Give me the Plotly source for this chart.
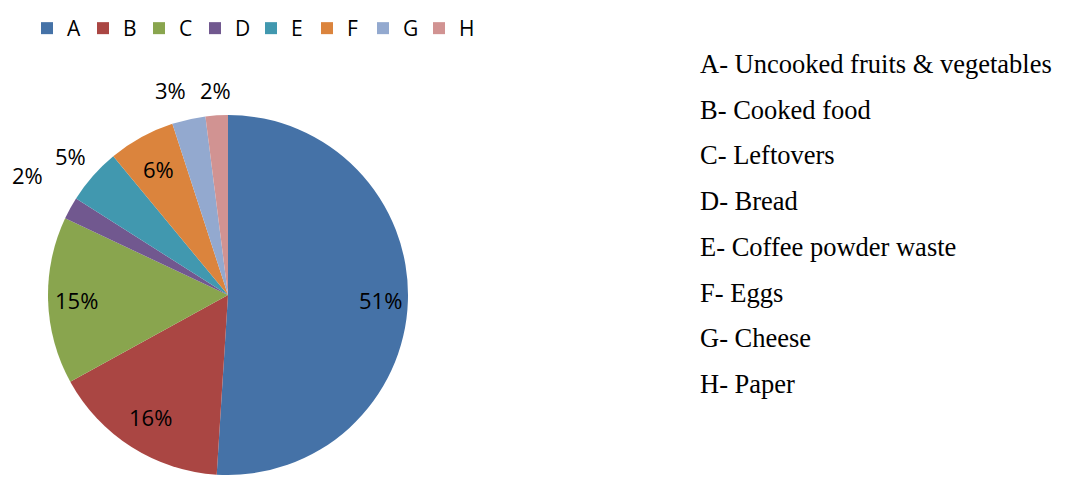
import math
import plotly.graph_objects as go

categories = ["A", "B", "C", "D", "E", "F", "G", "H"]
values = [51, 16, 15, 2, 5, 6, 3, 2]
descriptions = [
    "A- Uncooked fruits & vegetables",
    "B- Cooked food",
    "C- Leftovers",
    "D- Bread",
    "E- Coffee powder waste",
    "F- Eggs",
    "G- Cheese",
    "H- Paper",
]
colors = ["#4572A7", "#AA4643", "#89A54E", "#71588F", "#4198AF", "#DB843D", "#93A9CF", "#D19392"]
# label placement style: radial factor (of radius) and angular nudge (degrees)
label_radius = [0.85, 0.80, 0.84, 1.30, 1.17, 0.80, 1.18, 1.14]
label_nudge = [0, 0, 0, 2, 0, 0, -3, 0]

# page body has an 8px margin, so the figure is slightly smaller than the window
W, H = 1057, 470
cx, cy, R = 220, 287, 180          # pie centre / radius in figure pixels
LABEL_FONT = dict(family="Open Sans, sans-serif", size=22, color="#000000")

fig = go.Figure()
fig.add_trace(go.Pie(
    labels=categories,
    values=values,
    sort=False,
    direction="clockwise",
    rotation=0,
    marker=dict(colors=colors, line=dict(width=0)),
    textinfo="none",
    hoverinfo="label+percent",
    domain=dict(x=[(cx - R) / W, (cx + R) / W], y=[(H - cy - R) / H, (H - cy + R) / H]),
    showlegend=True,
))

# data labels placed at each slice's mid-angle (derived from values)
total = sum(values)
cum = 0.0
for v, f, nd in zip(values, label_radius, label_nudge):
    mid = (cum + v / 2) / total * 2 * math.pi + math.radians(nd)
    cum += v
    px = cx + f * R * math.sin(mid)
    py = cy - f * R * math.cos(mid)
    fig.add_annotation(
        text=f"{round(v / total * 100)}%", xref="paper", yref="paper",
        x=px / W, y=1 - py / H, xanchor="center", yanchor="middle",
        showarrow=False, font=LABEL_FONT,
    )

for i, d in enumerate(descriptions):
    fig.add_annotation(
        text=d, xref="paper", yref="paper",
        x=690 / W, y=1 - (56 + i * 45.7) / H,
        xanchor="left", yanchor="middle", showarrow=False,
        font=dict(family="Liberation Serif, Times New Roman, serif", size=26.5, color="#000000"),
    )

fig.update_layout(
    width=W, height=H,
    margin=dict(l=0, r=0, t=0, b=0),
    paper_bgcolor="white",
    plot_bgcolor="white",
    legend=dict(
        orientation="h", x=19 / W, y=1.0, xanchor="left", yanchor="top",
        font=dict(family="Open Sans, sans-serif", size=21, color="#000000"),
        entrywidth=11, entrywidthmode="pixels",
        itemwidth=30, traceorder="normal",
    ),
)

fig.write_html("out.html")
